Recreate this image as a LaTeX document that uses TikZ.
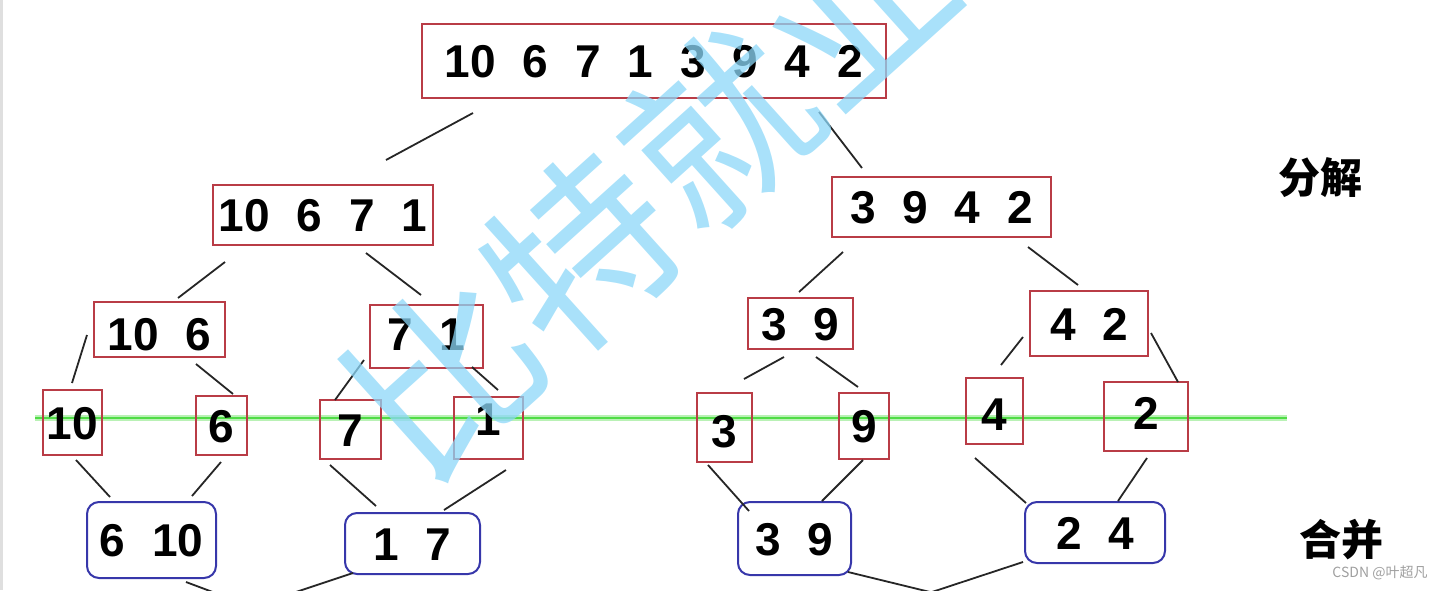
\documentclass[tikz,border=0pt]{standalone}
\usepackage{fontspec}
\newfontfamily\dg[WordSpace=2.1]{Liberation Sans}
\newfontfamily\cjk{Noto Sans CJK SC}
\definecolor{boxred}{RGB}{185,60,70}
\definecolor{boxblue}{RGB}{55,55,170}
\definecolor{wmblue}{RGB}{140,215,248}
\definecolor{lgreen}{RGB}{80,220,70}
\begin{document}
\begin{tikzpicture}[x=1pt,y=-1pt,
  digits/.style={font=\dg\bfseries\fontsize{46}{46}\selectfont, text height=33pt, text depth=0pt, inner sep=0pt},
  redbox/.style={digits, draw=boxred, line width=1.6pt},
  bluebox/.style={digits, draw=boxblue, line width=2pt, rounded corners=12pt},
  conn/.style={line width=1.8pt, black!85},
  lbl/.style={font=\cjk\bfseries\fontsize{42}{42}\selectfont, inner sep=0pt}]
\path[use as bounding box] (0,0) rectangle (1444,590);
\clip (0,0) rectangle (1444,590);
\fill[gray!25] (0,0) rectangle (2.5,590);
% green line behind
\coordinate (gl) at (35,418);
\coordinate (gr) at (1287,418);
\draw[lgreen!40, line width=6pt] (gl) -- (gr);
\draw[lgreen, line width=2.5pt] (gl) -- (gr);
% level 1
\node[redbox, minimum width=464pt, minimum height=74pt] (top) at (654,61) {10 6 7 1 3 9 4 2};
% level 2
\node[redbox, minimum width=220pt, minimum height=60pt] (n10671) at (323,215) {10 6 7 1};
\node[redbox, minimum width=219pt, minimum height=60pt] (n3942) at (941.5,207) {3 9 4 2};
% level 3
\node[redbox, minimum width=131pt, minimum height=55pt, text height=42pt] (n106) at (159.5,329.5) {10 6};
\node[redbox, minimum width=113pt, minimum height=63pt, text depth=6pt] (n71) at (426.5,336.5) {7 1};
\node[redbox, minimum width=105pt, minimum height=51pt] (n39) at (800.5,323.5) {3 9};
\node[redbox, minimum width=118pt, minimum height=65pt] (n42) at (1089,323.5) {4 2};
% leaves
\node[redbox, minimum width=59pt, minimum height=65pt] (l10) at (72.5,422.5) {10};
\node[redbox, minimum width=51pt, minimum height=59pt] (l6) at (221.5,425.5) {6};
\node[redbox, minimum width=61pt, minimum height=59pt] (l7) at (350.5,429.5) {7};
\node[redbox, minimum width=69pt, minimum height=62pt, text depth=18pt] (l1) at (488.5,428) {1};
\node[redbox, minimum width=55pt, minimum height=69pt, text height=40pt] (l3) at (724.5,427.5) {3};
\node[redbox, minimum width=50pt, minimum height=66pt] (l9) at (864,426) {9};
\node[redbox, minimum width=57pt, minimum height=66pt, text height=38pt] (l4) at (994.5,411) {4};
\node[redbox, minimum width=84pt, minimum height=69pt, text depth=7pt] (l2) at (1146,416.5) {2};
% merged
\node[bluebox, minimum width=129pt, minimum height=76pt] (m610) at (151.5,540) {6 10};
\node[bluebox, minimum width=135pt, minimum height=61pt] (m17) at (412.5,543.5) {1 7};
\node[bluebox, minimum width=113pt, minimum height=73pt] (m39) at (794.5,538.5) {3 9};
\node[bluebox, minimum width=140pt, minimum height=61pt] (m24) at (1095,532.5) {2 4};
% labels
\node[lbl] (split) at (1320,178) {分解};
\node[lbl] (merge) at (1341,540) {合并};
% free ends below the picture
\coordinate (b1) at (218,594);
\coordinate (b2) at (290,594);
\coordinate (b3) at (930,592);
\coordinate (b4) at (932,592);
% connectors
\draw[conn] ([shift={(-181,52)}]top.center) -- ([shift={(63,-55)}]n10671.center);
\draw[conn] ([shift={(165,51)}]top.center) -- ([shift={(-79.5,-39)}]n3942.center);
\draw[conn] ([shift={(-98,47)}]n10671.center) -- ([shift={(18.5,-31.5)}]n106.center);
\draw[conn] ([shift={(43,38)}]n10671.center) -- ([shift={(-5.5,-41.5)}]n71.center);
\draw[conn] ([shift={(-98.5,45)}]n3942.center) -- ([shift={(-1.5,-31.5)}]n39.center);
\draw[conn] ([shift={(86.5,40)}]n3942.center) -- ([shift={(-11,-38.5)}]n42.center);
\draw[conn] ([shift={(-72.5,5.5)}]n106.center) -- ([shift={(-0.5,-39.5)}]l10.center);
\draw[conn] ([shift={(36.5,34.5)}]n106.center) -- ([shift={(11.5,-31.5)}]l6.center);
\draw[conn] ([shift={(-62.5,23.5)}]n71.center) -- ([shift={(-15.5,-29.5)}]l7.center);
\draw[conn] ([shift={(45.5,30.5)}]n71.center) -- ([shift={(9.5,-38)}]l1.center);
\draw[conn] ([shift={(-16.5,33.5)}]n39.center) -- ([shift={(19.5,-48.5)}]l3.center);
\draw[conn] ([shift={(15.5,33.5)}]n39.center) -- ([shift={(-6,-39)}]l9.center);
\draw[conn] ([shift={(-66,13.5)}]n42.center) -- ([shift={(6.5,-46)}]l4.center);
\draw[conn] ([shift={(62,9.5)}]n42.center) -- ([shift={(32,-34.5)}]l2.center);
\draw[conn] ([shift={(3.5,37.5)}]l10.center) -- ([shift={(-41.5,-43)}]m610.center);
\draw[conn] ([shift={(-0.5,36.5)}]l6.center) -- ([shift={(40.5,-44)}]m610.center);
\draw[conn] ([shift={(-20.5,35.5)}]l7.center) -- ([shift={(-36.5,-37.5)}]m17.center);
\draw[conn] ([shift={(17.5,42)}]l1.center) -- ([shift={(31.5,-33.5)}]m17.center);
\draw[conn] ([shift={(-16.5,37.5)}]l3.center) -- ([shift={(-45.5,-27.5)}]m39.center);
\draw[conn] ([shift={(-1,34)}]l9.center) -- ([shift={(27.5,-37.5)}]m39.center);
\draw[conn] ([shift={(-19.5,47)}]l4.center) -- ([shift={(-69,-29.5)}]m24.center);
\draw[conn] ([shift={(1,41.5)}]l2.center) -- ([shift={(23,-31.5)}]m24.center);
\draw[conn] ([shift={(34.5,42)}]m610.center) -- (b1);
\draw[conn] ([shift={(-59.5,29.5)}]m17.center) -- (b2);
\draw[conn] ([shift={(53.5,33.5)}]m39.center) -- (b3);
\draw[conn] ([shift={(-72,29.5)}]m24.center) -- (b4);
% watermark
\node[text=wmblue, rotate=42, opacity=0.75, inner sep=0pt, font=\cjk\fontsize{185}{185}\selectfont] (wm) at (650,190) {比特就业};
% credit
\node[text=gray!75, inner sep=0pt, font=\cjk\fontsize{14}{14}\selectfont] (csdn) at (1380,573) {CSDN @叶超凡};
\end{tikzpicture}
\end{document}
